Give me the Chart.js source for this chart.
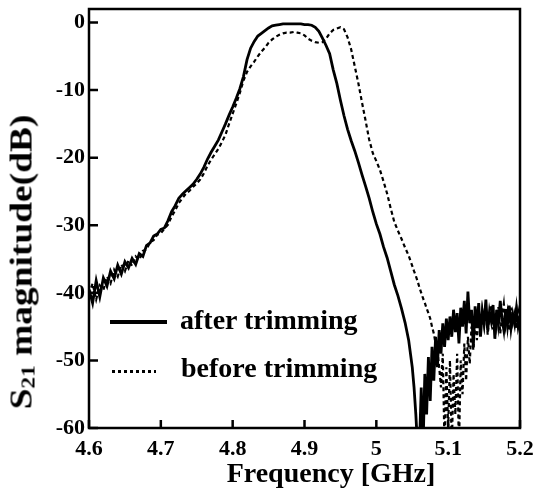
<!doctype html>
<html>
    <head>
        <title>S21 magnitude</title>
        <script src="https://cdn.jsdelivr.net/npm/chart.js@4.4.1/dist/chart.umd.min.js"></script>
        <style>
            body { margin: 0; background: #fff; }
            #wrap { position: relative; width: 533px; height: 494px; }
            .txt {
                position: absolute;
                font-family: 'Liberation Serif', 'Times New Roman', serif;
                font-weight: bold;
                color: #000;
                white-space: nowrap;
                line-height: 28px;
            }
            #ytitle {
                left: 24px; top: 262px;
                font-size: 32px;
                transform: translate(-50%, -50%) rotate(-90deg) scaleX(1.17);
            }
            #ytitle sub { font-size: 0.62em; vertical-align: -0.15em; }
            #xtitle { left: 331px; top: 459px; font-size: 28px; transform: translateX(-50%); }
            .leg { font-size: 28px; }
            #solidKey { position: absolute; left: 110px; top: 320px; width: 57px; height: 4px; background: #000; }
            #dotKey {
                position: absolute; left: 112px; top: 370px; width: 44px; height: 3px;
                background: repeating-linear-gradient(90deg, #000 0 3px, transparent 3px 6px);
            }
        </style>
    </head>

    <body>
        <div id="wrap">
            <canvas id="myChart" width="533" height="494"></canvas>
            <div class="txt" id="ytitle">S<sub>21</sub> magnitude(dB)</div>
            <div class="txt" id="xtitle">Frequency [GHz]</div>
            <div id="solidKey"></div>
            <div class="txt leg" style="left:180px; top:306px;">after trimming</div>
            <div id="dotKey"></div>
            <div class="txt leg" style="left:181px; top:354px;">before trimming</div>
        </div>
        <script>
            // main sweep 4.600 .. 5.045 GHz every 5 MHz, tail 5.050 .. 5.200 every 2.5 MHz
            var freqMain = [];
            for (var i = 0; i < 90; i++) {
                freqMain.push(+(4.6 + i * 0.005).toFixed(4));
            }
            var freqTail = [];
            for (var j = 0; j <= 60; j++) {
                freqTail.push(+(5.05 + j * 0.0025).toFixed(4));
            }

            var afterMain = [
                -39.5, -41.5, -38.2, -40.6, -37.8, -39.0, -36.8, -37.9, -35.9, -37.2,
                -35.4, -36.3, -34.9, -35.8, -34.2, -34.6, -33.0, -32.6, -31.6, -31.3,
                -30.6, -30.4, -29.3, -28.0, -27.1, -26.0, -25.4, -24.9, -24.4, -23.9,
                -23.2, -22.4, -21.4, -20.2, -19.2, -18.3, -17.4, -16.2, -15.0, -13.7,
                -12.5, -11.2, -9.8, -8.0, -5.5, -3.8, -2.8, -2.0, -1.6, -1.2,
                -0.8, -0.5, -0.4, -0.3, -0.2, -0.2, -0.2, -0.2, -0.2, -0.2,
                -0.3, -0.3, -0.4, -0.7, -1.3, -2.3, -3.4, -4.6, -7.0, -9.0,
                -11.5, -13.8, -15.8, -17.5, -19.0, -20.7, -22.5, -24.2, -26.0, -28.0,
                -29.8, -31.3, -33.2, -34.8, -36.8, -38.8, -40.4, -42.3, -44.4, -47.0
            ];
            var afterTail = [
                -51.0, -54.0, -58.0, -63.0, -63.0, -54.0, -63.0, -52.0, -58.0, -49.5,
                -56.0, -48.0, -53.0, -46.5, -51.0, -45.5, -49.0, -44.5, -48.0, -43.8,
                -47.0, -43.5, -46.5, -42.5, -45.8, -43.0, -47.5, -42.2, -45.0, -41.2,
                -46.0, -39.8, -44.5, -42.5, -48.0, -42.0, -45.2, -41.5, -46.5, -42.8,
                -44.5, -41.0, -45.6, -42.8, -44.2, -41.8, -46.8, -42.5, -44.6, -41.2,
                -43.8, -45.5, -42.4, -44.8, -41.9, -45.2, -43.2, -44.6, -42.3, -45.0,
                -43.8
            ];

            var beforeMain = [
                -40.2, -38.6, -41.0, -38.9, -39.6, -37.6, -38.6, -36.6, -37.6, -35.8,
                -36.8, -35.2, -36.0, -34.6, -35.1, -33.8, -33.6, -32.5, -32.2, -31.4,
                -31.2, -30.5, -29.9, -28.7, -27.8, -26.7, -26.0, -25.3, -24.9, -24.3,
                -23.8, -23.2, -22.3, -21.2, -20.3, -19.5, -18.7, -17.7, -16.6, -15.0,
                -13.5, -12.0, -10.4, -8.6, -7.3, -6.5, -5.8, -5.0, -4.3, -3.7,
                -3.0, -2.5, -2.1, -1.8, -1.6, -1.5, -1.5, -1.4, -1.5, -1.6,
                -1.9, -2.4, -2.7, -2.9, -3.0, -2.9, -2.4, -1.6, -1.1, -0.9,
                -0.7, -1.0, -2.2, -4.0, -6.5, -9.0, -11.8, -14.5, -17.3, -19.3,
                -20.5, -21.8, -23.5, -25.3, -27.5, -29.5, -30.8, -32.0, -33.3, -34.5
            ];
            var beforeTail = [
                -36.0, -36.8, -37.5, -38.3, -39.2, -40.0, -40.8, -41.5, -42.3, -43.0,
                -43.8, -45.0, -46.0, -47.5, -48.5, -51.0, -54.0, -49.0, -63.0, -51.0,
                -60.0, -50.0, -63.0, -52.0, -58.0, -49.0, -63.0, -50.0, -55.0, -47.5,
                -53.0, -46.5, -50.5, -45.0, -48.5, -43.8, -47.0, -43.5, -45.8, -42.6,
                -44.8, -42.2, -46.2, -43.3, -41.8, -45.4, -43.0, -44.9, -42.1, -46.0,
                -43.4, -41.6, -44.8, -42.9, -45.6, -42.2, -44.4, -43.1, -45.3, -42.7,
                -44.0
            ];

            var xTicks = [4.6, 4.7, 4.8, 4.9, 5.0, 5.1, 5.2];
            var xTickLabels = ['4.6', '4.7', '4.8', '4.9', '5', '5.1', '5.2'];
            var yTicks = [0, -10, -20, -30, -40, -50, -60];

            function pairs(xs, ys) {
                var out = [];
                for (var k = 0; k < xs.length; k++) {
                    out.push({ x: xs[k], y: ys[k] });
                }
                return out;
            }

            var tickFont = { family: "'Liberation Serif', serif", weight: 'bold', size: 22 };

            // frame + inward tick marks
            var framePlugin = {
                id: 'frame',
                afterDatasetsDraw: function (chart) {
                    var ctx = chart.ctx;
                    var a = chart.chartArea;
                    var xs = chart.scales.x;
                    var ys = chart.scales.y;
                    ctx.save();
                    ctx.strokeStyle = '#000';
                    ctx.lineWidth = 2.5;
                    ctx.strokeRect(a.left, a.top, a.right - a.left, a.bottom - a.top);
                    ctx.beginPath();
                    xTicks.forEach(function (v) {
                        var px = xs.getPixelForValue(v);
                        ctx.moveTo(px, a.bottom);
                        ctx.lineTo(px, a.bottom - 8);
                    });
                    yTicks.forEach(function (v) {
                        var py = ys.getPixelForValue(v);
                        ctx.moveTo(a.left, py);
                        ctx.lineTo(a.left + 9, py);
                    });
                    ctx.stroke();
                    ctx.restore();
                }
            };

            var ctx = document.getElementById('myChart').getContext('2d');
            var myChart = new Chart(ctx, {
                type: 'line',
                data: {
                    datasets: [{
                        label: 'after trimming',
                        data: pairs(freqMain, afterMain).concat(pairs(freqTail, afterTail)),
                        borderColor: '#000',
                        borderWidth: 2.8,
                        pointRadius: 0,
                        tension: 0
                    }, {
                        label: 'before trimming',
                        data: pairs(freqMain, beforeMain).concat(pairs(freqTail, beforeTail)),
                        borderColor: '#000',
                        borderWidth: 2.2,
                        borderDash: [4, 3],
                        pointRadius: 0,
                        tension: 0
                    }]
                },
                options: {
                    responsive: false,
                    animation: false,
                    layout: { padding: { left: 0, right: 13, top: 9, bottom: 0 } },
                    plugins: {
                        legend: { display: false },
                        tooltip: { enabled: false }
                    },
                    scales: {
                        x: {
                            type: 'linear',
                            min: 4.6,
                            max: 5.2,
                            grid: { display: false, drawTicks: false },
                            border: { display: false },
                            ticks: {
                                color: '#000',
                                font: tickFont,
                                padding: 8,
                                maxRotation: 0,
                                callback: function (v, i) { return xTickLabels[i]; }
                            },
                            afterBuildTicks: function (s) {
                                s.ticks = xTicks.map(function (v) { return { value: v }; });
                            },
                            afterFit: function (s) {
                                s.height = 66;
                                s.paddingLeft = 0;
                                s.paddingRight = 0;
                            }
                        },
                        y: {
                            min: -60,
                            max: 2,
                            grid: { display: false, drawTicks: false },
                            border: { display: false },
                            ticks: {
                                color: '#000',
                                font: tickFont,
                                padding: 4,
                                callback: function (v) { return String(v); }
                            },
                            afterBuildTicks: function (s) {
                                s.ticks = yTicks.map(function (v) { return { value: v }; });
                            },
                            afterFit: function (s) {
                                s.width = 89;
                                s.paddingTop = 0;
                                s.paddingBottom = 0;
                            }
                        }
                    }
                },
                plugins: [framePlugin]
            });
        </script>
    </body>

</html>
